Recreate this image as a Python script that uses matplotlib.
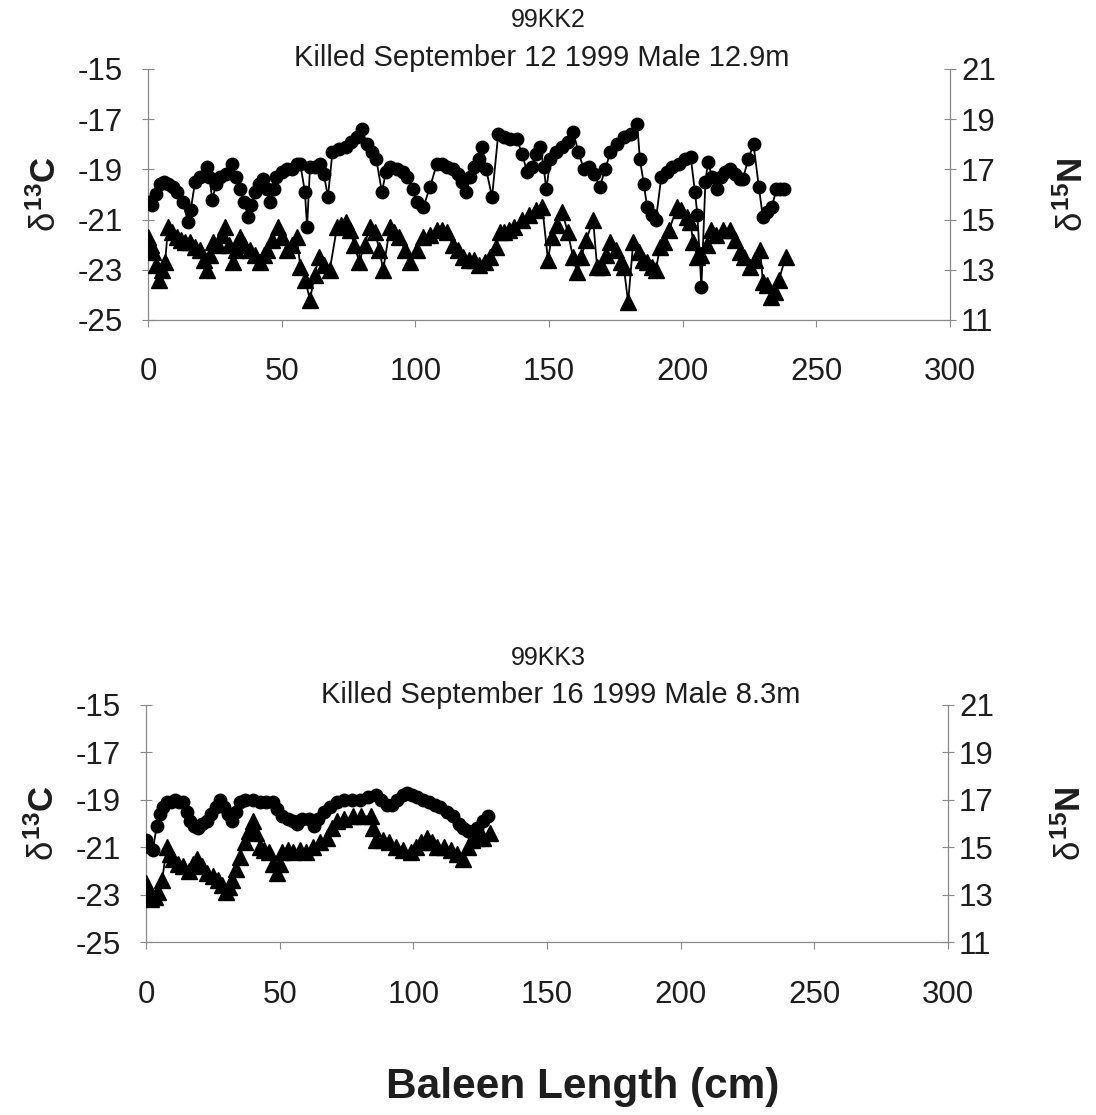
import matplotlib
matplotlib.use("Agg")
import matplotlib.pyplot as plt

plt.rcParams['font.family'] = ['Liberation Sans', 'DejaVu Sans']
plt.rcParams['mathtext.fontset'] = 'custom'
plt.rcParams['mathtext.rm'] = 'Liberation Sans'
plt.rcParams['mathtext.bf'] = 'Liberation Sans:bold'
plt.rcParams['mathtext.it'] = 'Liberation Sans'

# ---------------- data ----------------
x_ticks = [0, 50, 100, 150, 200, 250, 300]
c13_ticks = [-25, -23, -21, -19, -17, -15]
n15_ticks = [11, 13, 15, 17, 19, 21]

titles_top = ["99KK2", "Killed September 12 1999 Male 12.9m"]
titles_bot = ["99KK3", "Killed September 16 1999 Male 8.3m"]

kk2_c13_x = [0, 1.5, 3, 4.5, 6, 7.5, 9.4, 11, 13, 15, 16, 17.6, 19.5, 22, 23, 24, 25.5, 27, 29, 31.4,
             33, 34.4, 36, 37.4, 38.7, 40, 41.5, 43, 44.4, 45.6, 47, 48, 50, 52, 54, 55.7, 57, 58.7, 59.5,
             60.6, 62.5, 64.3, 65.8, 67.3, 69, 71.5, 74, 76, 78, 80, 82, 83.7, 85.4, 87.5, 89, 90.5, 93,
             95.4, 97, 99, 100.6, 103, 105.5, 108, 110, 112, 114, 116, 117.5, 119, 120.5, 122, 123.7, 125,
             126.5, 128.7, 131, 133, 135.5, 138, 140, 141.8, 143.5, 145, 146.6, 148, 149, 150.5, 152.5,
             155, 157, 159, 161, 163, 165, 167, 169, 171, 173, 175.5, 178, 180.5, 183, 184, 185.5, 186.7,
             188.5, 190, 192, 194, 196, 198.5, 201, 203, 204.6, 205.5, 207, 208.5, 209.5, 211, 212.8,
             214.5, 216, 217.7, 219.5, 221.5, 222.5, 224.5, 226.5, 228.5, 230, 231.5, 233.4, 235, 236.5, 238]
kk2_c13_y = [-20.3, -20.4, -20.0, -19.6, -19.5, -19.6, -19.7, -19.9, -20.3, -21.1, -20.6, -19.5, -19.3,
             -18.9, -19.3, -20.2, -19.6, -19.3, -19.2, -18.8, -19.3, -19.8, -20.3, -20.9, -20.4, -19.9,
             -19.6, -19.4, -19.8, -20.3, -19.8, -19.3, -19.1, -19.0, -19.0, -18.8, -18.8, -19.9, -21.3,
             -18.9, -18.9, -18.8, -19.2, -20.1, -18.3, -18.2, -18.1, -17.9, -17.7, -17.4, -18.0, -18.3,
             -18.6, -19.9, -19.1, -18.9, -19.0, -19.1, -19.3, -19.8, -20.3, -20.5, -19.7, -18.8, -18.8,
             -18.9, -19.0, -19.2, -19.5, -19.9, -19.3, -18.9, -18.6, -18.1, -19.0, -20.1, -17.6, -17.7,
             -17.8, -17.8, -18.4, -19.1, -18.9, -18.4, -18.1, -18.9, -19.8, -18.6, -18.3, -18.1, -17.9,
             -17.5, -18.3, -19.0, -18.9, -19.2, -19.7, -19.0, -18.3, -18.0, -17.7, -17.6, -17.2, -18.6,
             -19.6, -20.5, -20.8, -21.0, -19.3, -19.1, -18.9, -18.8, -18.6, -18.5, -19.9, -20.8, -23.7,
             -19.5, -18.7, -19.3, -19.8, -19.3, -19.1, -19.0, -19.2, -19.4, -19.4, -18.6, -18.0, -19.7,
             -20.9, -20.7, -20.5, -19.8, -19.8, -19.8]

kk2_n15_x = [0, 1, 2, 3, 4, 5.2, 6.4, 7.5, 9, 10.8, 12.5, 14, 15.7, 17.5, 19.5, 21, 22, 23.2, 24.3, 26,
             27.5, 28.8, 30.3, 31.8, 33, 34.4, 36, 38, 40, 41.9, 43.3, 44.5, 46.5, 48.6, 50.3, 52, 54,
             55.7, 57, 58.8, 60.6, 62.3, 64, 66, 68, 70.7, 72.3, 74, 75.5, 77.2, 79, 81, 83, 85, 86.5, 88,
             90.5, 92, 94, 96, 98, 100.5, 103, 105.5, 108, 110, 112, 114, 116, 118, 120, 122, 124, 126,
             128, 130, 131.7, 133, 135, 137, 140, 142.5, 145, 147.5, 149.6, 151, 153, 155, 157, 159,
             160.5, 162, 164, 166.5, 168, 170, 171.5, 173, 175, 177, 178, 179.6, 181.5, 183.5, 185,
             186.7, 188.5, 190, 191.5, 193, 195, 197.9, 199.5, 201.6, 202.8, 204, 205.5, 207, 209,
             210.5, 212.5, 215, 217.7, 219.5, 221.5, 223, 225, 227, 229, 230, 231.5, 233, 234.5, 236, 238.5]
kk2_n15_y = [14.3, 14.0, 13.7, 13.2, 12.6, 13.0, 13.3, 14.7, 14.5, 14.3, 14.2, 14.1, 14.1, 13.9, 13.8,
             13.4, 13.0, 13.6, 14.1, 14.0, 14.4, 14.7, 14.0, 13.3, 13.8, 14.3, 14.0, 13.8, 13.6, 13.3,
             13.6, 13.8, 14.2, 14.7, 14.3, 13.8, 14.0, 14.3, 13.1, 12.6, 11.8, 12.8, 13.5, 13.2, 13.0,
             14.7, 14.8, 14.9, 14.6, 14.0, 13.3, 14.0, 14.7, 14.5, 13.8, 13.0, 14.7, 14.5, 14.3, 13.8,
             13.3, 13.8, 14.3, 14.4, 14.6, 14.6, 14.5, 14.0, 13.8, 13.5, 13.4, 13.4, 13.2, 13.3, 13.5,
             13.9, 14.5, 14.5, 14.6, 14.7, 15.0, 15.2, 15.4, 15.5, 13.4, 14.3, 14.8, 15.3, 14.5, 13.5,
             12.9, 13.5, 14.2, 15.0, 13.1, 13.1, 13.6, 14.1, 13.8, 13.3, 13.1, 11.7, 14.1, 13.7, 13.4,
             13.3, 13.1, 13.0, 13.9, 14.1, 14.6, 15.5, 15.4, 15.1, 14.9, 14.1, 13.5, 13.6, 14.0, 14.6,
             14.4, 14.6, 14.6, 14.2, 13.7, 13.5, 13.1, 13.4, 13.8, 12.5, 12.4, 11.9, 12.1, 12.6, 13.5]

kk3_c13_x = [0, 1.3, 2.6, 4, 5.2, 6.4, 8, 9.5, 11, 12.5, 14, 15.3, 16.5, 18, 19.5, 21, 22.8, 24.5, 26,
             27.7, 29.2, 30.7, 32, 33.5, 35, 37, 40, 42.5, 45, 47.5, 49, 51, 53, 55, 56.5, 58.5, 61, 63,
             64.5, 66.5, 69, 71.5, 74, 77, 80, 83, 86, 88, 90, 92, 94, 96, 97.6, 99.5, 101.5, 103.6, 106,
             108, 110, 112.5, 115, 117, 118.6, 120.5, 122, 124, 126, 128]
kk3_c13_y = [-20.7, -21.0, -21.1, -20.1, -19.6, -19.3, -19.1, -19.1, -19.0, -19.1, -19.1, -19.5, -19.9,
             -20.1, -20.2, -20.0, -19.9, -19.6, -19.3, -19.0, -19.3, -19.6, -19.9, -19.5, -19.1, -19.0,
             -19.0, -19.1, -19.1, -19.1, -19.4, -19.7, -19.8, -19.9, -20.0, -19.8, -19.8, -20.1, -19.8,
             -19.5, -19.3, -19.1, -19.0, -19.0, -19.0, -18.9, -18.8, -19.0, -19.2, -19.2, -19.0, -18.8,
             -18.7, -18.8, -18.9, -19.0, -19.1, -19.2, -19.3, -19.5, -19.7, -20.0, -20.2, -20.3, -20.4,
             -20.2, -19.9, -19.7]

kk3_n15_x = [0, 1, 2, 3.3, 4.5, 6, 7.8, 9, 10, 12, 14, 16, 17.5, 19, 21, 22.8, 25, 27, 28.5, 30, 31, 32,
             33.5, 35, 37, 38.5, 40, 41.3, 42.6, 44.3, 46, 47.5, 49, 50, 51, 53, 55, 57.6, 60, 62.5, 65,
             67.7, 69.5, 71.5, 74, 77.5, 80.5, 84, 85, 86, 88.5, 91, 93.5, 96, 99, 101, 103, 105, 107,
             109, 111.5, 114, 116.5, 118.6, 120.5, 122, 124, 126, 128.7]
kk3_n15_y = [13.5, 13.1, 12.8, 12.9, 13.1, 13.6, 15.0, 14.7, 14.5, 14.3, 14.2, 14.0, 14.3, 14.5, 14.2,
             13.9, 13.8, 13.6, 13.4, 13.1, 13.3, 13.6, 14.1, 14.6, 15.2, 15.7, 16.1, 15.6, 15.0, 14.9,
             14.8, 14.3, 13.9, 14.3, 14.8, 14.9, 14.8, 14.9, 14.8, 15.0, 15.2, 15.4, 15.8, 16.1, 16.2,
             16.3, 16.3, 16.3, 15.8, 15.3, 15.3, 15.2, 15.0, 14.9, 14.8, 15.0, 15.2, 15.4, 15.2, 15.0,
             15.0, 14.9, 14.7, 14.5, 15.0, 15.3, 15.4, 15.4, 15.6]

# ---------------- figure ----------------
W, H = 1096, 1115
fig = plt.figure(figsize=(W / 100, H / 100), dpi=100)
fig.patch.set_facecolor('white')

spine_col = '#8a8a8a'
txt_col = '#1e1e1e'
TICK_FS = 22.5


def panel(rect, cx, cy, nx, ny, titles, title_y, title_x, xpad):
    ax = fig.add_axes(rect)
    ax.plot(cx, cy, '-', color='black', lw=1.3, marker='o', ms=9,
            mfc='black', mec='black', zorder=3)
    ax.set_xlim(0, 300)
    ax.set_ylim(-25, -15)
    ax.set_xticks(x_ticks)
    ax.set_yticks(c13_ticks)
    ax.set_yticklabels([f'{v}' for v in c13_ticks])
    ax.spines['top'].set_visible(False)
    ax.spines['right'].set_visible(False)
    for s in ['left', 'bottom']:
        ax.spines[s].set_color(spine_col)
        ax.spines[s].set_linewidth(0.9)
    ax.tick_params(axis='y', direction='inout', length=8, width=0.8, color=spine_col,
                   labelsize=TICK_FS, labelcolor=txt_col, pad=14)
    ax.tick_params(axis='x', direction='out', length=5, width=0.8, color=spine_col,
                   labelsize=TICK_FS, labelcolor=txt_col, pad=xpad)
    ax.set_ylabel(r'$\delta^{\mathbf{13}}\mathbf{C}$', fontsize=25, color=txt_col, labelpad=11)

    ax2 = ax.twinx()
    ax2.plot(nx, ny, '-', color='black', lw=1.3, marker='^', ms=11,
             mfc='black', mec='black', zorder=3)
    ax2.set_ylim(11, 21)
    ax2.set_yticks(n15_ticks)
    ax2.spines['top'].set_visible(False)
    ax2.spines['left'].set_visible(False)
    ax2.spines['bottom'].set_visible(False)
    ax2.spines['right'].set_color(spine_col)
    ax2.spines['right'].set_linewidth(0.9)
    ax2.tick_params(axis='y', direction='inout', length=8, width=0.8, color=spine_col,
                    labelsize=TICK_FS, labelcolor=txt_col, pad=4)
    ax2.set_ylabel(r'$\delta^{\mathbf{15}}\mathbf{N}$', fontsize=25, color=txt_col, labelpad=43)

    fig.text(title_x[0] / W, 1 - title_y[0] / H, titles[0], ha='center', va='center',
             fontsize=18, color=txt_col)
    fig.text(title_x[1] / W, 1 - title_y[1] / H, titles[1], ha='center', va='center',
             fontsize=21, color=txt_col)
    return ax, ax2


panel([148 / W, 1 - 320 / H, 802 / W, 251 / H], kk2_c13_x, kk2_c13_y, kk2_n15_x, kk2_n15_y,
      titles_top, (20, 58), (548, 542), 21.5)
panel([146 / W, 1 - 942 / H, 802 / W, 237 / H], kk3_c13_x, kk3_c13_y, kk3_n15_x, kk3_n15_y,
      titles_bot, (658, 695), (548, 561), 22.5)

fig.text(583 / W, 1 - 1087 / H, 'Baleen Length (cm)', ha='center', va='center',
         fontsize=30.5, fontweight='bold', color=txt_col)

fig.savefig('out.png', dpi=100, facecolor='white')
